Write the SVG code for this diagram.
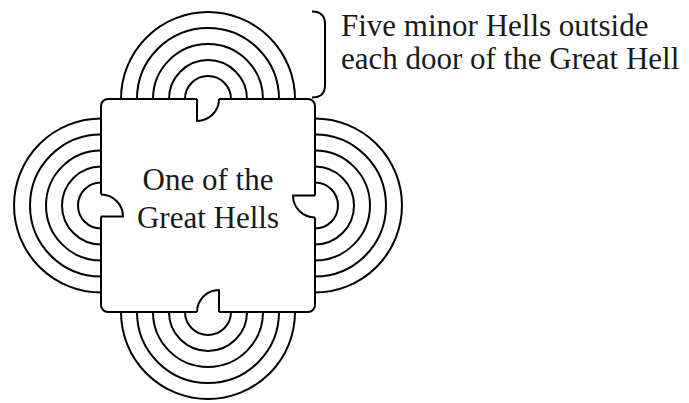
<svg xmlns="http://www.w3.org/2000/svg" width="689" height="403" viewBox="0 0 689 403">
<style>
.ln{fill:none;stroke:#000;stroke-width:2;stroke-linecap:butt;stroke-linejoin:round}
.t{font-family:"Liberation Serif","Times New Roman",serif;font-size:31px;fill:#1a1a1a}
</style>
<rect width="689" height="403" fill="#fff"/>
<g id="connectors">
<g id="minor-top" class="ln">
<path d="M185,99 A23 23 0 0 1 231,99"/>
<path d="M169,99 A39 39 0 0 1 247,99"/>
<path d="M153,99 A55 55 0 0 1 263,99"/>
<path d="M137,99 A71 71 0 0 1 279,99"/>
<path d="M121,99 A87 87 0 0 1 295,99"/>
</g>
<g id="minor-bottom" class="ln">
<path d="M185,312 A23 23 0 0 0 231,312"/>
<path d="M169,312 A39 39 0 0 0 247,312"/>
<path d="M153,312 A55 55 0 0 0 263,312"/>
<path d="M137,312 A71 71 0 0 0 279,312"/>
<path d="M121,312 A87 87 0 0 0 295,312"/>
</g>
<g id="minor-left" class="ln">
<path d="M101,182.5 A23 23 0 0 0 101,228.5"/>
<path d="M101,166.5 A39 39 0 0 0 101,244.5"/>
<path d="M101,150.5 A55 55 0 0 0 101,260.5"/>
<path d="M101,134.5 A71 71 0 0 0 101,276.5"/>
<path d="M101,118.5 A87 87 0 0 0 101,292.5"/>
</g>
<g id="minor-right" class="ln">
<path d="M315,182.5 A23 23 0 0 1 315,228.5"/>
<path d="M315,166.5 A39 39 0 0 1 315,244.5"/>
<path d="M315,150.5 A55 55 0 0 1 315,260.5"/>
<path d="M315,134.5 A71 71 0 0 1 315,276.5"/>
<path d="M315,118.5 A87 87 0 0 1 315,292.5"/>
</g>
<path id="bracket" class="ln" d="M312,11.5 Q325,11.5 325,24 V85 Q325,97.5 312,97.5"/>
</g>
<g id="great-hell">
<path class="ln" d="M108,99 H197 M219,99 H308 A7 7 0 0 1 315,106 V195.5 M315,217.5 V305 A7 7 0 0 1 308,312 H219 M197,312 H108 A7 7 0 0 1 101,305 V216.5 M101,194.5 V106 A7 7 0 0 1 108,99"/>
<path class="ln" d="M197,99 V121 A22 22 0 0 0 219,99"/>
<path class="ln" d="M219,312 V290 A22 22 0 0 0 197,312"/>
<path class="ln" d="M101,216.5 H123 A22 22 0 0 0 101,194.5"/>
<path class="ln" d="M315,195.5 H293 A22 22 0 0 0 315,217.5"/>
<text class="t" x="208" y="190" text-anchor="middle">One of the</text>
<text class="t" x="208" y="228" text-anchor="middle">Great Hells</text>
</g>
<g id="label">
<text class="t" x="341" y="36">Five minor Hells outside</text>
<text class="t" x="341" y="68.5">each door of the Great Hell</text>
</g>
</svg>
